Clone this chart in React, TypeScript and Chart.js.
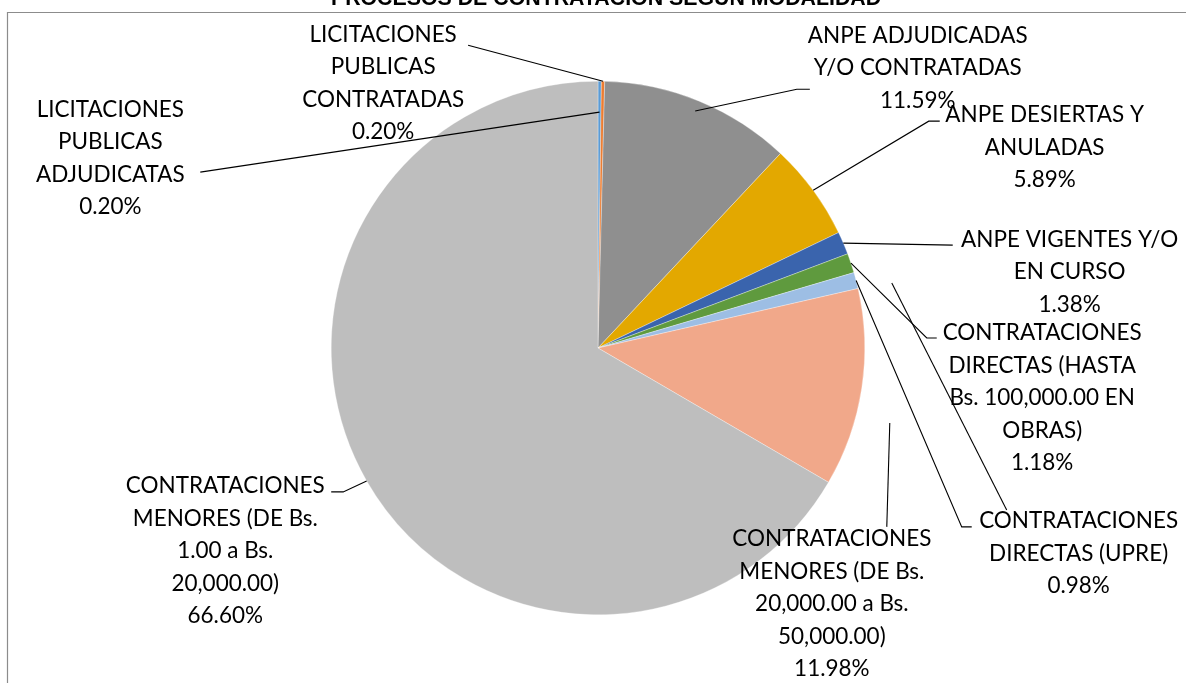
import React, { useEffect, useRef } from "react";
import { Chart, registerables } from "chart.js";

Chart.register(...registerables);

// ---------- data ----------
const TITLE = "PROCESOS DE CONTRATACION SEGUN MODALIDAD";

const categories: string[][] = [
  ["LICITACIONES", "PUBLICAS", "ADJUDICATAS"],
  ["LICITACIONES", "PUBLICAS", "CONTRATADAS"],
  ["ANPE ADJUDICADAS", "Y/O CONTRATADAS"],
  ["ANPE DESIERTAS Y", "ANULADAS"],
  ["ANPE VIGENTES Y/O", "EN CURSO"],
  ["CONTRATACIONES", "DIRECTAS (HASTA", "Bs. 100,000.00 EN", "OBRAS)"],
  ["CONTRATACIONES", "DIRECTAS (UPRE)"],
  ["CONTRATACIONES", "MENORES (DE Bs.", "20,000.00 a Bs.", "50,000.00)"],
  ["CONTRATACIONES", "MENORES (DE Bs.", "1.00 a Bs.", "20,000.00)"],
];

const values: number[] = [0.2, 0.2, 11.59, 5.89, 1.38, 1.18, 0.98, 11.98, 66.6];

const colors: string[] = [
  "#5B9BD5",
  "#ED7D31",
  "#8F8F8F",
  "#E3A800",
  "#3A64AD",
  "#5F9A3E",
  "#9DBEE4",
  "#F1A88A",
  "#BEBEBE",
];

// ---------- label layout (offsets from pie centre, in px at radius 267) ----------
type LabelLayout = { text: [number, number]; k: number; leader: [number, number][] };
const labelLayout: LabelLayout[] = [
  { text: [-488, -240], k: 0.884, leader: [[-398, -176]] },
  { text: [-215, -315], k: 1.0, leader: [[-130, -303]] },
  { text: [320, -314], k: 0.96, leader: [[199, -259], [212, -259]] },
  { text: [447, -234.5], k: 1.0, leader: [[331, -227], [342, -227]] },
  { text: [472, -110], k: 1.0, leader: [[355, -103]] },
  { text: [444.5, -16], k: 1.0, leader: [[329, -10], [339, -10]] },
  { text: [481, 172], k: 1.0, leader: [[364, 179], [374, 179]] },
  { text: [234, 190], k: 0, leader: [] },
  { text: [-373, 137], k: 1.0, leader: [[-255, 144], [-267, 144]] },
];
// detached leader segments present in the reference
const strayLines: [number, number][][] = [
  [[294, -65], [409, 162]],
  [[292, 75], [289, 179]],
];

const BASE_R = 267;
const LINE_H = 32.5;
const FONT_SIZE = 23.7;
const REF_WORD_WIDTH = 199; // width of "CONTRATACIONES" in the reference

const decorPlugin = {
  id: "decor",
  afterDraw(chart: any) {
    const ctx: CanvasRenderingContext2D = chart.ctx;
    const meta = chart.getDatasetMeta(0);
    if (!meta.data.length) return;
    const { x: cx, y: cy, outerRadius: R } = meta.data[0].getProps(["x", "y", "outerRadius"], true);
    const s = R / BASE_R;
    const P = (d: [number, number]) => [cx + d[0] * s, cy + d[1] * s];

    ctx.save();
    // frame
    ctx.strokeStyle = "#8C8C8C";
    ctx.lineWidth = 1.2;
    ctx.beginPath();
    ctx.moveTo(7.5, chart.height + 2);
    ctx.lineTo(7.5, 12.5);
    ctx.lineTo(chart.width + 2, 12.5);
    ctx.stroke();

    // title (cut off at top)
    ctx.fillStyle = "#000";
    ctx.font = "bold 21.33px 'Liberation Sans', Arial, sans-serif";
    ctx.textAlign = "center";
    ctx.textBaseline = "alphabetic";
    ctx.fillText(TITLE, 606, 4.5);

    // leader lines
    ctx.strokeStyle = "#000";
    ctx.lineWidth = 1.1;
    labelLayout.forEach((L, i) => {
      if (!L.leader.length) return;
      const a = meta.data[i].getProps(["startAngle", "endAngle"], true);
      const mid = (a.startAngle + a.endAngle) / 2;
      ctx.beginPath();
      ctx.moveTo(cx + Math.cos(mid) * R * L.k, cy + Math.sin(mid) * R * L.k);
      L.leader.forEach((p) => {
        const q = P(p);
        ctx.lineTo(q[0], q[1]);
      });
      ctx.stroke();
    });
    strayLines.forEach((seg) => {
      ctx.beginPath();
      seg.forEach((p, j) => {
        const q = P(p);
        if (j === 0) ctx.moveTo(q[0], q[1]);
        else ctx.lineTo(q[0], q[1]);
      });
      ctx.stroke();
    });

    // label text
    ctx.font = `${FONT_SIZE}px Lato, 'Open Sans', sans-serif`;
    const sx = REF_WORD_WIDTH / ctx.measureText("CONTRATACIONES").width;
    ctx.fillStyle = "#000";
    ctx.textAlign = "center";
    ctx.textBaseline = "alphabetic";
    const capHalf = FONT_SIZE * 0.358;
    labelLayout.forEach((L, i) => {
      const lines = [...categories[i], values[i].toFixed(2) + "%"];
      const [tx, ty] = P(L.text);
      lines.forEach((ln, j) => {
        ctx.save();
        ctx.translate(tx, ty + j * LINE_H * s + capHalf);
        ctx.scale(sx, 1);
        ctx.fillText(ln, 0, 0);
        ctx.restore();
      });
    });
    ctx.restore();
  },
};

export default function App() {
  const canvasRef = useRef<HTMLCanvasElement | null>(null);

  useEffect(() => {
    if (!canvasRef.current) return;
    const chart = new Chart(canvasRef.current, {
      type: "pie",
      data: {
        labels: categories.map((c) => c.join(" ")),
        datasets: [
          {
            data: values,
            backgroundColor: colors,
            borderColor: "rgba(255,255,255,0.8)",
            borderWidth: 0.4,
            hoverOffset: 0,
          },
        ],
      },
      options: {
        responsive: false,
        animation: false,
        layout: { padding: { left: 331, right: 321, top: 81, bottom: 68 } },
        plugins: {
          legend: { display: false },
          tooltip: { enabled: false },
          title: { display: false },
        },
      },
      plugins: [decorPlugin],
    });
    return () => chart.destroy();
  }, []);

  return (
    <div style={{ position: "fixed", left: 0, top: 0, width: 1186, height: 683, background: "#fff" }}>
      <canvas ref={canvasRef} width={1186} height={683} style={{ display: "block" }} />
    </div>
  );
}
